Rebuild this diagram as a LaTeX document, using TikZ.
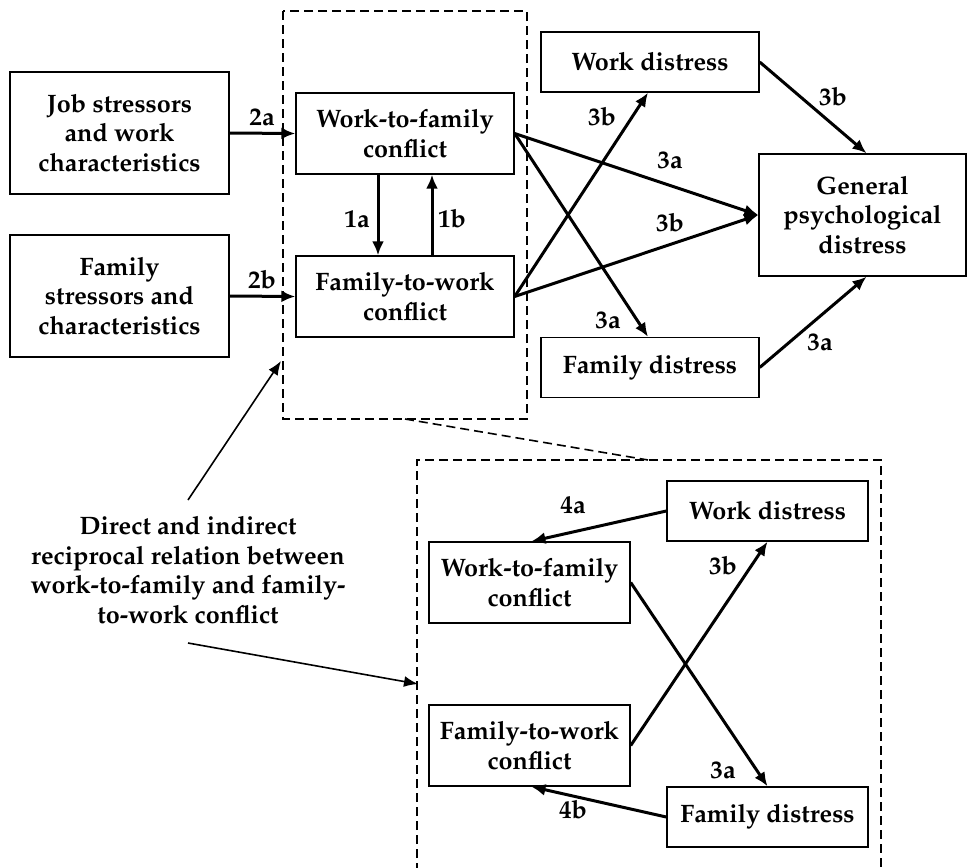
\documentclass[tikz,border=0pt]{standalone}
\usepackage[T1]{fontenc}
\usepackage{mathpazo}
\usetikzlibrary{arrows.meta}
\begin{document}
\begin{tikzpicture}[x=0.5pt,y=-0.5pt,
  font=\fontsize{12.6}{14.75}\selectfont\bfseries,
  box/.style={draw,line width=0.7pt,align=center,inner sep=0pt},
  boxA/.style={box,minimum width=109.5pt,minimum height=61pt},
  boxB/.style={box,minimum width=109pt,minimum height=40.5pt},
  boxC/.style={box,minimum width=109pt,minimum height=30pt},
  boxD/.style={box,minimum width=100.5pt,minimum height=40.5pt},
  boxE/.style={box,minimum width=100.5pt,minimum height=30pt},
  arr/.style={line width=1.5pt,-{Latex[length=7pt,width=6pt]}},
  thinarr/.style={line width=0.8pt,-{Latex[length=7pt,width=5.5pt]}},
  dashframe/.style={line width=0.8pt,dash pattern=on 4.5pt off 2.5pt},
  lbl/.style={inner sep=0pt}]
\useasboundingbox (0,0) rectangle (968,867);
% boxes
\node[boxA] (job) at (119.5,133) {Job stressors\\and work\\characteristics};
\node[boxA] (fam) at (119.5,296) {Family\\stressors and\\characteristics};
\node[boxB] (wtf) at (405,133.5) {Work-to-family\\conflict};
\node[boxB] (ftw) at (405,296.5) {Family-to-work\\conflict};
\node[boxC] (wd) at (650,62) {Work distress};
\node[boxC] (fd) at (650,367.5) {Family distress};
\node[boxA,minimum width=103.5pt] (gen) at (862.5,215) {General\\psychological\\distress};
\node[boxE] (lwd) at (767.5,511) {Work distress};
\node[boxD] (lwtf) at (529.5,582.5) {Work-to-family\\conflict};
\node[boxD] (lftw) at (529.5,745.5) {Family-to-work\\conflict};
\node[boxE] (lfd) at (767.5,817) {Family distress};
% dashed frames
\coordinate (b1) at (283,11); \coordinate (b2) at (527,419);
\draw[dashframe] (b1) rectangle (b2);
\coordinate (l1) at (417,460); \coordinate (l2) at (881,460);
\coordinate (l3) at (417,872); \coordinate (l4) at (881,872);
\draw[dashframe] (l3) -- (l1) -- (l2) -- (l4);
\coordinate (z1) at (405,419); \coordinate (z2) at (648,460);
\draw[dashframe] (z1) -- (z2);
% upper arrows
\draw[arr] (job.east) -- (wtf.west);
\draw[arr] (fam.east) -- (ftw.west);
\draw[arr] ([xshift=-13.5pt]wtf.south) -- ([xshift=-13.5pt]ftw.north);
\draw[arr] ([xshift=13.5pt]ftw.north) -- ([xshift=13.5pt]wtf.south);
\draw[arr] (wtf.east) -- (gen.west);
\draw[arr] (ftw.east) -- (gen.west);
\draw[arr] (ftw.east) -- ([xshift=-1pt]wd.south);
\draw[arr] (wtf.east) -- ([xshift=-1pt]fd.north);
\draw[arr] (wd.east) -- ([xshift=2pt]gen.north);
\draw[arr] (fd.east) -- ([xshift=2pt]gen.south);
% lower arrows
\draw[arr] (lwd.west) -- ([xshift=1pt]lwtf.north);
\draw[arr] (lftw.east) -- (lwd.south);
\draw[arr] (lwtf.east) -- (lfd.north);
\draw[arr] (lfd.west) -- ([xshift=1pt]lftw.south);
% labels
\node[lbl] (t2a) at (262,117) {2a};
\node[lbl] (t2b) at (262,280) {2b};
\node[lbl] (t1a) at (357,219) {1a};
\node[lbl] (t1b) at (452,219) {1b};
\node[lbl] (t3a1) at (670,160) {3a};
\node[lbl] (t3b1) at (670,223) {3b};
\node[lbl] (t3b2) at (602,117) {3b};
\node[lbl] (t3a2) at (608,320) {3a};
\node[lbl] (t3b3) at (833,97) {3b};
\node[lbl] (t3a3) at (820,342) {3a};
\node[lbl] (t4a) at (573,505) {4a};
\node[lbl] (t3b4) at (723,566) {3b};
\node[lbl] (t3a4) at (723,770) {3a};
\node[lbl] (t4b) at (573,810) {4b};
% annotation
\node[align=center,inner sep=0pt] (note) at (188,570) {Direct and indirect\\reciprocal relation between\\work-to-family and family-\\to-work conflict};
\coordinate (n1) at (188,500); \coordinate (n1e) at (281,361);
\coordinate (n2) at (188,643); \coordinate (n2e) at (418,684);
\draw[thinarr] (n1) -- (n1e);
\draw[thinarr] (n2) -- (n2e);
\end{tikzpicture}
\end{document}
